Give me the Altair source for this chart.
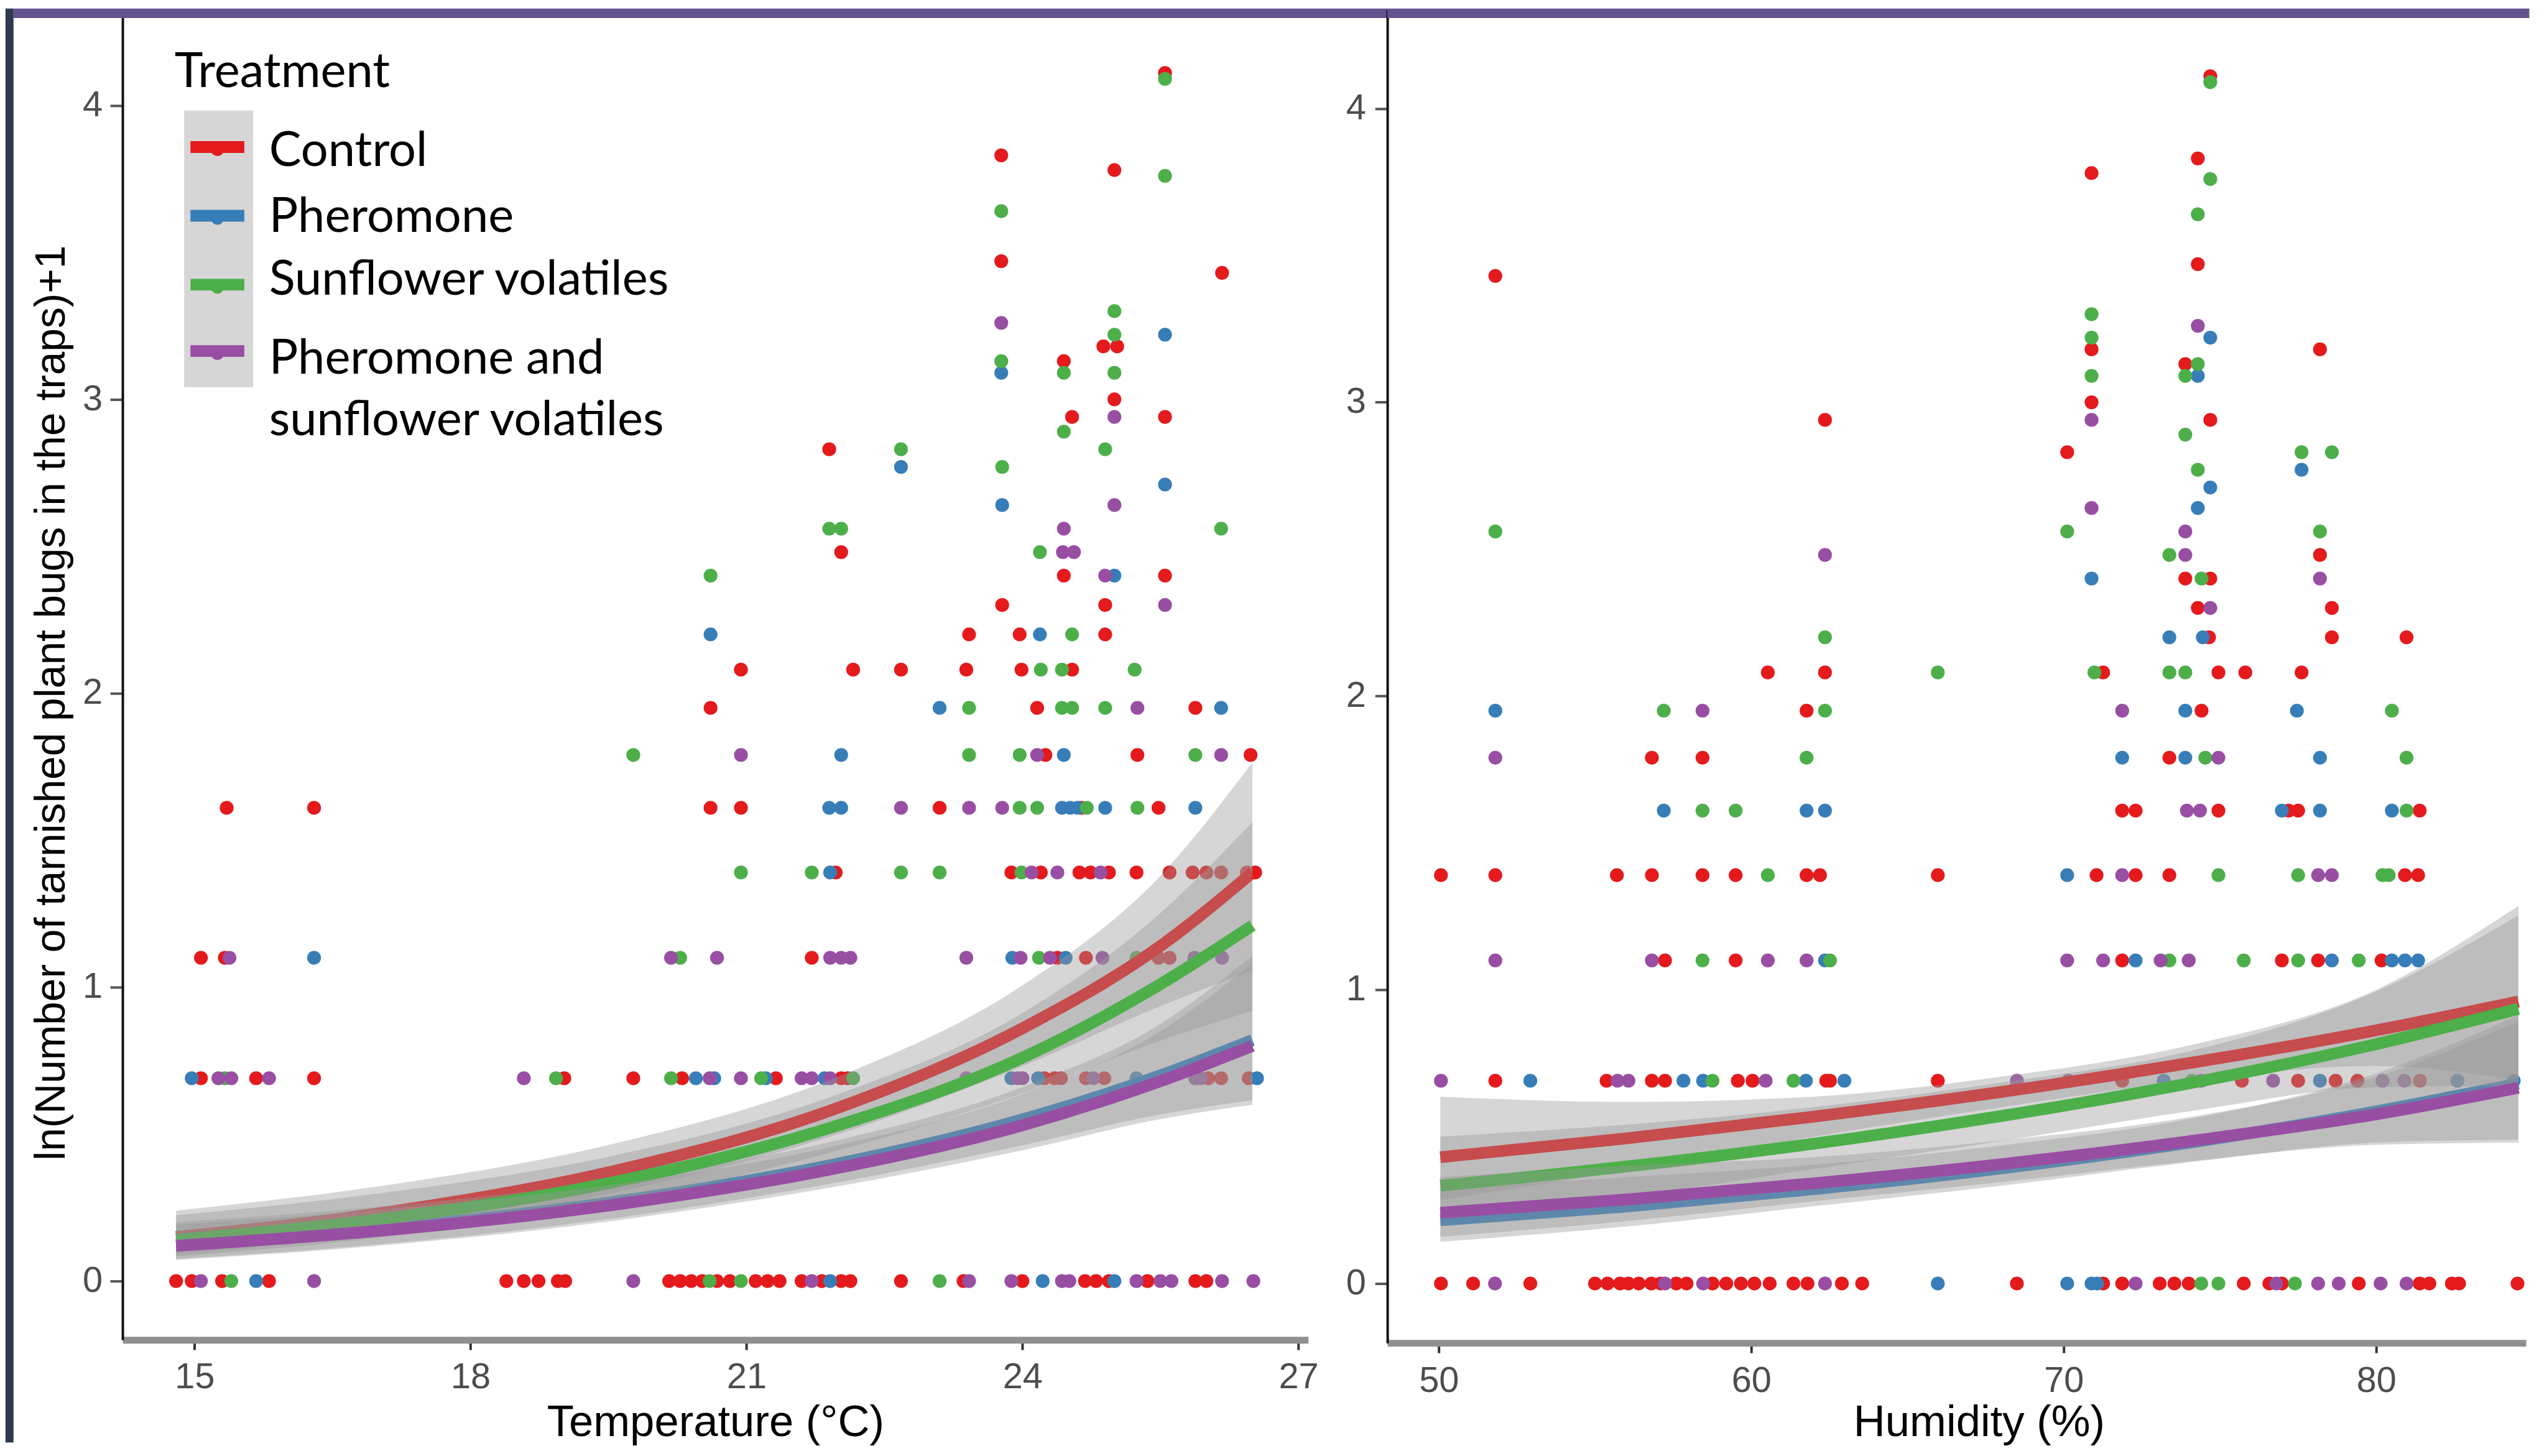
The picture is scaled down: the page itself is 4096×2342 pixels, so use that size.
import altair as alt
import pandas as pd

TREATMENTS = ["Control", "Pheromone", "Sunflower volatiles",
              "Pheromone and sunflower volatiles"]
COLORS = ["#E41A1C", "#377EB8", "#4DAF4A", "#984EA3"]

# ---------- Temperature panel: y value -> temperatures (°C) ----------
TEMP_CONTROL = {
    4.11: [25.55], 3.83: [23.77], 3.78: [25.0], 3.47: [23.77], 3.43: [26.17],
    3.18: [24.88, 25.03], 3.13: [24.45], 3.00: [25.0], 2.94: [24.54, 25.55],
    2.83: [21.9], 2.48: [22.03], 2.40: [24.45, 25.55], 2.30: [23.78, 24.9],
    2.20: [23.42, 23.97, 24.9],
    2.08: [20.94, 22.16, 22.68, 23.39, 23.99, 24.54],
    1.95: [20.61, 24.16, 25.88],
    1.79: [24.25, 25.25, 26.48],
    1.61: [15.35, 16.30, 20.61, 20.94, 23.10, 24.64, 25.48],
    1.39: [21.97, 23.88, 24.2, 24.62, 24.74, 24.94, 25.24, 25.6, 25.85, 26.0,
           26.16, 26.44, 26.53],
    1.10: [15.07, 15.33, 21.71, 24.38, 24.69, 25.48, 25.6],
    0.69: [15.07, 15.67, 16.30, 19.02, 19.77, 20.3, 21.32, 22.03, 22.1, 24.24,
           24.35, 24.42, 24.69, 24.89, 26.02, 26.16, 26.46],
    0.00: [14.8, 14.97, 15.3, 15.81, 18.39, 18.58, 18.74, 18.95, 19.03, 20.16,
           20.28, 20.4, 20.52, 20.68, 20.82, 21.1, 21.23, 21.36, 21.6, 21.82,
           22.03, 22.13, 22.68, 23.36, 24.0, 24.68, 24.8, 24.94, 25.36, 25.88,
           26.0],
}
TEMP_PHEROMONE = {
    3.22: [25.55], 3.09: [23.77], 2.77: [22.68], 2.71: [25.55], 2.64: [23.78],
    2.40: [25.0], 2.20: [20.61, 24.19],
    1.95: [23.10, 26.16],
    1.79: [22.03, 24.45],
    1.61: [21.9, 22.03, 24.43, 24.52, 24.6, 24.9, 25.88],
    1.39: [21.91],
    1.10: [16.30, 23.89, 24.47],
    0.69: [14.97, 20.45, 20.65, 21.21, 21.85, 23.88, 24.17, 25.24, 26.55],
    0.00: [15.67, 21.91, 24.22, 25.0],
}
TEMP_SUNFLOWER = {
    4.09: [25.55], 3.76: [25.55], 3.64: [23.77], 3.30: [25.0], 3.22: [25.0],
    3.13: [23.77], 3.09: [24.45, 25.0], 2.89: [24.45], 2.83: [22.68, 24.9],
    2.77: [23.78], 2.56: [21.9, 22.03, 26.16], 2.48: [24.19], 2.40: [20.61],
    2.20: [24.54],
    2.08: [24.2, 24.43, 25.22],
    1.95: [23.42, 24.43, 24.54, 24.9],
    1.79: [19.77, 23.42, 23.97, 25.88],
    1.61: [23.97, 24.16, 24.7, 25.25],
    1.39: [20.94, 21.71, 22.68, 23.10, 23.99],
    1.10: [20.28, 24.18, 25.24],
    0.69: [15.33, 18.93, 20.18, 21.16, 22.16],
    0.00: [15.4, 20.6, 20.94, 23.1],
}
TEMP_BOTH = {
    3.26: [23.77], 2.94: [25.0], 2.64: [25.0], 2.56: [24.45],
    2.48: [24.44, 24.56], 2.40: [24.9], 2.30: [25.55],
    1.95: [25.25],
    1.79: [20.94, 24.16, 26.16],
    1.61: [22.68, 23.42, 23.78],
    1.39: [24.1, 24.38, 24.85],
    1.10: [15.38, 20.18, 20.68, 21.91, 22.03, 22.13, 23.39, 23.98, 24.3, 24.87,
           25.87, 26.17],
    0.69: [15.26, 15.40, 15.81, 18.58, 20.6, 20.94, 21.6, 21.71, 21.91, 23.39,
           23.95, 24.0, 24.77, 25.48, 25.88, 25.94],
    0.00: [15.07, 16.3, 19.77, 21.71, 23.42, 23.88, 24.43, 24.51, 25.24, 25.5,
           25.62, 26.17, 26.51],
}

# ---------- Humidity panel: y value -> relative humidity (%) ----------
HUM_CONTROL = {
    4.11: [74.69], 3.83: [74.29], 3.78: [70.89], 3.47: [74.29], 3.43: [51.81],
    3.18: [70.89, 78.2], 3.13: [73.89], 3.00: [70.89], 2.94: [62.36, 74.69],
    2.83: [70.11], 2.48: [78.2], 2.40: [73.89, 74.69], 2.30: [74.29, 78.58],
    2.20: [74.65, 78.58, 80.97],
    2.08: [60.53, 62.36, 71.26, 74.95, 75.81, 77.61],
    1.95: [61.77, 74.41],
    1.79: [56.82, 58.44, 73.38],
    1.61: [71.87, 72.3, 74.95, 77.2, 77.5, 81.39],
    1.39: [50.07, 51.81, 55.7, 56.82, 58.44, 59.5, 61.77, 62.2, 65.97, 71.05,
           72.3, 73.38, 80.92, 81.34],
    1.10: [57.24, 59.5, 71.87, 76.98, 78.14, 80.17],
    0.69: [51.81, 55.37, 56.82, 57.24, 59.57, 60.04, 62.4, 62.52, 65.97, 71.87,
           75.7, 77.5, 78.7, 79.4, 81.4],
    0.00: [50.07, 51.1, 52.93, 55.0, 55.4, 55.8, 56.07, 56.4, 56.8, 57.1, 57.6,
           57.93, 58.76, 59.2, 59.67, 60.1, 60.59, 61.35, 61.8, 62.9, 63.55,
           68.5, 71.26, 71.87, 73.07, 73.54, 74.0, 75.76, 76.58, 76.98, 79.44,
           81.39, 81.7, 82.42, 82.65, 84.52],
}
HUM_PHEROMONE = {
    3.22: [74.69], 3.09: [74.29], 2.77: [77.61], 2.71: [74.69], 2.64: [74.29],
    2.40: [70.89], 2.20: [73.38, 74.45],
    1.95: [51.81, 73.89, 77.46],
    1.79: [71.87, 73.89, 78.2],
    1.61: [57.2, 61.77, 62.36, 76.98, 78.2, 80.5],
    1.39: [70.11],
    1.10: [62.36, 72.3, 78.58, 80.5, 80.92, 81.34],
    0.69: [52.93, 57.83, 58.46, 61.75, 62.98, 73.2, 78.2, 82.6, 84.4],
    0.00: [65.97, 70.11, 70.89, 71.07],
}
HUM_SUNFLOWER = {
    4.09: [74.69], 3.76: [74.69], 3.64: [74.29], 3.30: [70.89], 3.22: [70.89],
    3.13: [74.29], 3.09: [70.89, 73.89], 2.89: [73.89], 2.83: [77.61, 78.58],
    2.77: [74.29], 2.56: [51.81, 70.11, 78.2], 2.48: [73.38], 2.40: [74.41],
    2.20: [62.36],
    2.08: [65.97, 70.98, 73.38, 73.89],
    1.95: [57.2, 62.36, 80.5],
    1.79: [61.77, 74.53, 80.97],
    1.61: [58.44, 59.5, 80.97],
    1.39: [60.53, 74.95, 77.5, 80.2, 80.4],
    1.10: [58.44, 62.52, 73.38, 75.76, 77.5, 79.44],
    0.69: [58.76, 61.35, 74.1],
    0.00: [74.4, 74.95, 77.4],
}
HUM_BOTH = {
    3.26: [74.29], 2.94: [70.89], 2.64: [70.89], 2.56: [73.89],
    2.48: [62.36, 73.89], 2.40: [78.2], 2.30: [74.69],
    1.95: [58.44, 71.87],
    1.79: [51.81, 74.95],
    1.61: [73.94, 74.36],
    1.39: [71.87, 78.14, 78.58],
    1.10: [51.81, 56.82, 60.53, 61.77, 70.11, 71.26, 73.1, 74.0],
    0.69: [50.07, 55.72, 56.07, 60.46, 68.5, 70.15, 74.4, 76.7, 80.2, 80.9],
    0.00: [51.8, 57.24, 58.46, 62.36, 72.3, 76.8, 78.14, 78.8, 80.14, 80.97],
}

# ---------- fitted curves with confidence bands (order = TREATMENTS) ----------
TEMP_FIT_X = [14.8, 17.0, 19.5, 22.0, 24.0, 25.5, 26.5]
TEMP_FIT = [[0.15, 0.23, 0.37, 0.59, 0.86, 1.14, 1.39],
            [0.125, 0.178, 0.267, 0.40, 0.55, 0.70, 0.82],
            [0.14, 0.21, 0.333, 0.53, 0.76, 1.01, 1.21],
            [0.12, 0.171, 0.257, 0.385, 0.53, 0.68, 0.80]]
TEMP_LO = [[0.09, 0.163, 0.296, 0.50, 0.731, 0.935, 1.056],
           [0.075, 0.125, 0.211, 0.336, 0.462, 0.567, 0.615],
           [0.084, 0.147, 0.263, 0.445, 0.638, 0.818, 0.92],
           [0.072, 0.12, 0.203, 0.323, 0.445, 0.551, 0.60]]
TEMP_HI = [[0.24, 0.322, 0.463, 0.696, 1.006, 1.379, 1.765],
           [0.20, 0.253, 0.339, 0.48, 0.66, 0.875, 1.107],
           [0.224, 0.298, 0.423, 0.636, 0.912, 1.252, 1.561],
           [0.192, 0.243, 0.326, 0.462, 0.636, 0.85, 1.08]]

HUM_FIT_X = [50.05, 56.0, 62.0, 68.0, 74.0, 80.0, 84.55]
HUM_FIT = [[0.43, 0.494, 0.568, 0.652, 0.75, 0.862, 0.96],
           [0.215, 0.262, 0.321, 0.392, 0.479, 0.586, 0.681],
           [0.333, 0.398, 0.476, 0.57, 0.681, 0.815, 0.935],
           [0.241, 0.286, 0.341, 0.406, 0.484, 0.576, 0.666]]
HUM_LO = [[0.284, 0.385, 0.50, 0.60, 0.69, 0.741, 0.691],
          [0.142, 0.194, 0.263, 0.333, 0.412, 0.48, 0.49],
          [0.22, 0.295, 0.39, 0.485, 0.586, 0.668, 0.673],
          [0.159, 0.212, 0.28, 0.345, 0.416, 0.472, 0.48]]
HUM_HI = [[0.636, 0.618, 0.636, 0.704, 0.81, 1.0, 1.286],
          [0.323, 0.362, 0.404, 0.47, 0.56, 0.715, 0.913],
          [0.50, 0.541, 0.60, 0.684, 0.79, 0.994, 1.253],
          [0.362, 0.40, 0.43, 0.487, 0.566, 0.703, 0.892]]

TEMP_TICKS = [15, 18, 21, 24, 27]
HUM_TICKS = [50, 60, 70, 80]
Y_TICKS = [0, 1, 2, 3, 4]


def points_frame(groups):
    rows = []
    for trt, d in zip(TREATMENTS, groups):
        for y, xs in d.items():
            for x in xs:
                rows.append({"x": x, "y": y, "trt": trt})
    return pd.DataFrame(rows)


def fit_frame(xs, fit, lo, hi):
    rows = []
    for i, trt in enumerate(TREATMENTS):
        for j, x in enumerate(xs):
            rows.append({"x": x, "fit": fit[i][j], "lo": lo[i][j],
                         "hi": hi[i][j], "trt": trt})
    return pd.DataFrame(rows)


left_pts = points_frame([TEMP_CONTROL, TEMP_PHEROMONE, TEMP_SUNFLOWER, TEMP_BOTH])
right_pts = points_frame([HUM_CONTROL, HUM_PHEROMONE, HUM_SUNFLOWER, HUM_BOTH])
left_fit = fit_frame(TEMP_FIT_X, TEMP_FIT, TEMP_LO, TEMP_HI)
right_fit = fit_frame(HUM_FIT_X, HUM_FIT, HUM_LO, HUM_HI)

color_scale = alt.Scale(domain=TREATMENTS, range=COLORS)
AXTXT = dict(labelFont="Liberation Sans", labelFontSize=58, labelColor="#4D4D4D",
             titleFont="Liberation Sans", titleFontWeight="normal",
             titleColor="#000000", grid=False, labelFlush=False,
             labelOverlap=False)

LW, LH = 1916, 2150
RW, RH = 1840, 2155


def panel(pts, fits, xscale, yscale, xaxis, yaxis):
    X = lambda f: alt.X(f, type="quantitative", scale=xscale, axis=xaxis)
    Y = lambda f: alt.Y(f, type="quantitative", scale=yscale, axis=yaxis)
    layers = [alt.Chart(pts).mark_circle(size=500, opacity=1).encode(
        x=X("x"), y=Y("y"),
        color=alt.Color("trt:N", scale=color_scale, legend=None))]
    for trt in TREATMENTS:
        band = alt.Chart(fits).transform_filter(alt.datum.trt == trt).mark_area(
            color="#999999", opacity=0.4, interpolate="monotone").encode(
            x=X("x"), y=Y("lo"), y2="hi")
        line = alt.Chart(fits).transform_filter(alt.datum.trt == trt).mark_line(
            strokeWidth=19, interpolate="monotone").encode(
            x=X("x"), y=Y("fit"),
            color=alt.Color("trt:N", scale=color_scale, legend=None))
        layers += [band, line]
    return layers


left_layers = panel(
    left_pts, left_fit,
    alt.Scale(domain=[14.218, 27.106], nice=False, zero=False),
    alt.Scale(domain=[-0.2, 4.3254], nice=False, zero=False),
    alt.Axis(values=TEMP_TICKS, title="Temperature (°C)", domainColor="#8F8F8F",
             domainWidth=11, tickColor="#333333", tickWidth=4, tickSize=16,
             labelPadding=16, titleFontSize=71, titleY=155,
             titleBaseline="alphabetic", **AXTXT),
    alt.Axis(values=Y_TICKS, title="ln(Number of tarnished plant bugs in the traps)+1",
             domainColor="#111111", domainWidth=4, tickColor="#555555",
             tickWidth=4, tickSize=20, labelPadding=12.6, titleFontSize=68,
             titleAngle=270, titleX=-114, titleY=1120, titleBaseline="middle",
             titleAlign="center", **AXTXT))

right_layers = panel(
    right_pts, right_fit,
    alt.Scale(domain=[48.355, 48.355 + RW / 50.5], nice=False, zero=False),
    alt.Scale(domain=[-0.2024, 4.3363], nice=False, zero=False),
    alt.Axis(values=HUM_TICKS, title="Humidity (%)", domainColor="#8F8F8F",
             domainWidth=11, tickColor="#333333", tickWidth=4, tickSize=16,
             labelPadding=17, titleFontSize=71, titleY=150, titleX=956,
             titleAlign="center", titleBaseline="alphabetic", **AXTXT),
    alt.Axis(values=Y_TICKS, title=None, domainColor="#111111", domainWidth=4,
             tickColor="#555555", tickWidth=4, tickSize=20, labelPadding=15,
             **AXTXT))

# ---------- legend (drawn inside the temperature panel) ----------
one = pd.DataFrame({"k": [0]})
KEY_Y = [222, 333, 444.4, 551.7]
LABEL_Y = [252.7, 359.4, 460.6, 588.3]
legend = [
    alt.Chart(one).mark_text(text="Treatment", font="Lato", fontSize=78,
                             align="left", baseline="alphabetic",
                             color="#000000").encode(
        x=alt.value(84.2), y=alt.value(125)),
    alt.Chart(one).mark_rect(color="#D6D6D6").encode(
        x=alt.value(99.6), x2=alt.value(211.1), y=alt.value(163), y2=alt.value(610)),
]
for i, (trt, col) in enumerate(zip(TREATMENTS, COLORS)):
    legend.append(alt.Chart(one).mark_circle(color=col, size=450, opacity=1).encode(
        x=alt.value(153.3), y=alt.value(KEY_Y[i] + 4)))
    legend.append(alt.Chart(one).mark_rule(color=col, strokeWidth=19).encode(
        x=alt.value(109.8), x2=alt.value(196.8), y=alt.value(KEY_Y[i])))
    words = trt.split(" ")
    lines = [trt] if len(words) < 4 else [" ".join(words[:2]), " ".join(words[2:])]
    for k, txt in enumerate(lines):
        legend.append(alt.Chart(one).mark_text(
            text=txt, font="Lato", fontSize=78, align="left",
            baseline="alphabetic", color="#000000").encode(
            x=alt.value(236.8), y=alt.value(LABEL_Y[i] + k * 99.3)))

# ---------- window decorations ----------
left_deco = [
    alt.Chart(one).mark_rect(color="#66518F").encode(
        x=alt.value(-176.2), x2=alt.value(LW + 128), y=alt.value(-2), y2=alt.value(13.5)),
    alt.Chart(one).mark_rect(color="#2D3A4F").encode(
        x=alt.value(-189.2), x2=alt.value(-176.2), y=alt.value(-2), y2=alt.value(2316)),
]
right_deco = [
    alt.Chart(one).mark_rect(color="#66518F").encode(
        x=alt.value(0), x2=alt.value(RW + 5.5), y=alt.value(-2), y2=alt.value(13.5)),
]

left = alt.layer(*(left_layers + legend + left_deco)).properties(width=LW, height=LH)
right = alt.layer(*(right_layers + right_deco)).properties(width=RW, height=RH)

chart = alt.hconcat(left, right, spacing=128, bounds="flush").properties(
    padding=0, background="#FFFFFF").configure_view(stroke=None)

chart.save("out.html", embed_options={"renderer": "svg", "actions": False})
